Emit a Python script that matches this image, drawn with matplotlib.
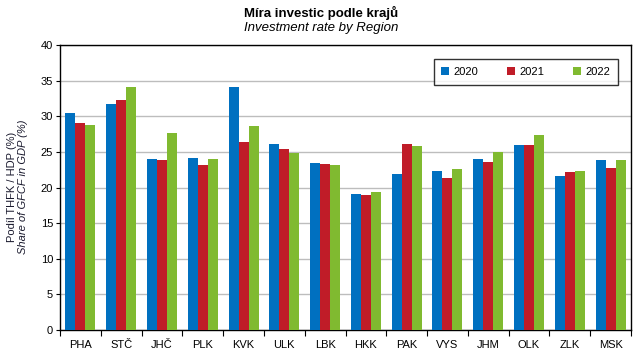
import numpy as np
import matplotlib
matplotlib.use("Agg")
import matplotlib.pyplot as plt

plt.rcParams['font.family'] = ['Liberation Sans', 'DejaVu Sans']

regions = ['PHA', 'STČ', 'JHČ', 'PLK', 'KVK', 'ULK', 'LBK',
           'HKK', 'PAK', 'VYS', 'JHM', 'OLK', 'ZLK', 'MSK']
years = ['2020', '2021', '2022']
rate_2020 = [30.5, 31.7, 24.0, 24.2, 34.1, 26.1, 23.5, 19.1, 21.9, 22.3, 24.0, 26.0, 21.6, 23.9]
rate_2021 = [29.1, 32.3, 23.9, 23.2, 26.4, 25.4, 23.3, 19.0, 26.1, 21.3, 23.6, 26.0, 22.2, 22.8]
rate_2022 = [28.8, 34.1, 27.7, 24.0, 28.6, 24.9, 23.2, 19.4, 25.8, 22.6, 25.0, 27.4, 22.3, 23.9]
colors = ['#0070c0', '#c01c28', '#80ba30']

fig = plt.figure(figsize=(6.43, 3.58), dpi=100)
ax = fig.add_axes([60 / 643, 28 / 358, 571 / 643, 285 / 358])

x = np.arange(len(regions))
w = 0.245
for i, (vals, yr) in enumerate(zip([rate_2020, rate_2021, rate_2022], years)):
    ax.bar(x + (i - 1) * w, vals, width=w, color=colors[i], label=yr, zorder=3)

ax.set_xlim(-0.5, len(regions) - 0.5)
ax.set_ylim(0, 40)
ax.set_yticks(np.arange(0, 41, 5))
ax.tick_params(axis='y', labelsize=8, length=3, width=0.8, pad=2)
ax.set_xticks(x)
ax.set_xticklabels(regions)
ax.set_xticks(np.arange(-0.5, len(regions), 1), minor=True)
ax.tick_params(axis='x', which='major', length=0, labelsize=8, pad=7)
ax.tick_params(axis='x', which='minor', length=4, width=0.8)
ax.grid(axis='y', color='#bdbdbd', linewidth=1, zorder=0)
for s in ax.spines.values():
    s.set_linewidth(1)
    s.set_color('black')

fig.text(0.5, 1 - 13 / 358, 'Míra investic podle krajů', ha='center', va='center',
         fontsize=9.5, fontweight='bold')
fig.text(0.5, 1 - 28 / 358, 'Investment rate by Region', ha='center', va='center',
         fontsize=9.5, style='italic')

# two-line y label: Czech on top, English italic below
fig.text(12 / 643, 1 - 187 / 358, 'Podíl THFK / HDP (%)', rotation=90, ha='center',
         va='center', fontsize=8, color='#1a1a2e')
fig.text(23 / 643, 1 - 187 / 358, 'Share of GFCF in GDP (%)', rotation=90, ha='center',
         va='center', fontsize=8, style='italic', color='#1a1a2e')

leg = ax.legend(loc='upper right', bbox_to_anchor=(618 / 643, 1 - 59 / 358),
                bbox_transform=fig.transFigure, ncol=3, fontsize=8,
                frameon=True, fancybox=False, handlelength=0.7, handleheight=0.7,
                handletextpad=0.4, columnspacing=2.6, borderpad=0.7,
                borderaxespad=0)
leg.get_frame().set_edgecolor('black')
leg.get_frame().set_linewidth(1)
leg.set_zorder(5)

fig.savefig('out.png', dpi=100)
